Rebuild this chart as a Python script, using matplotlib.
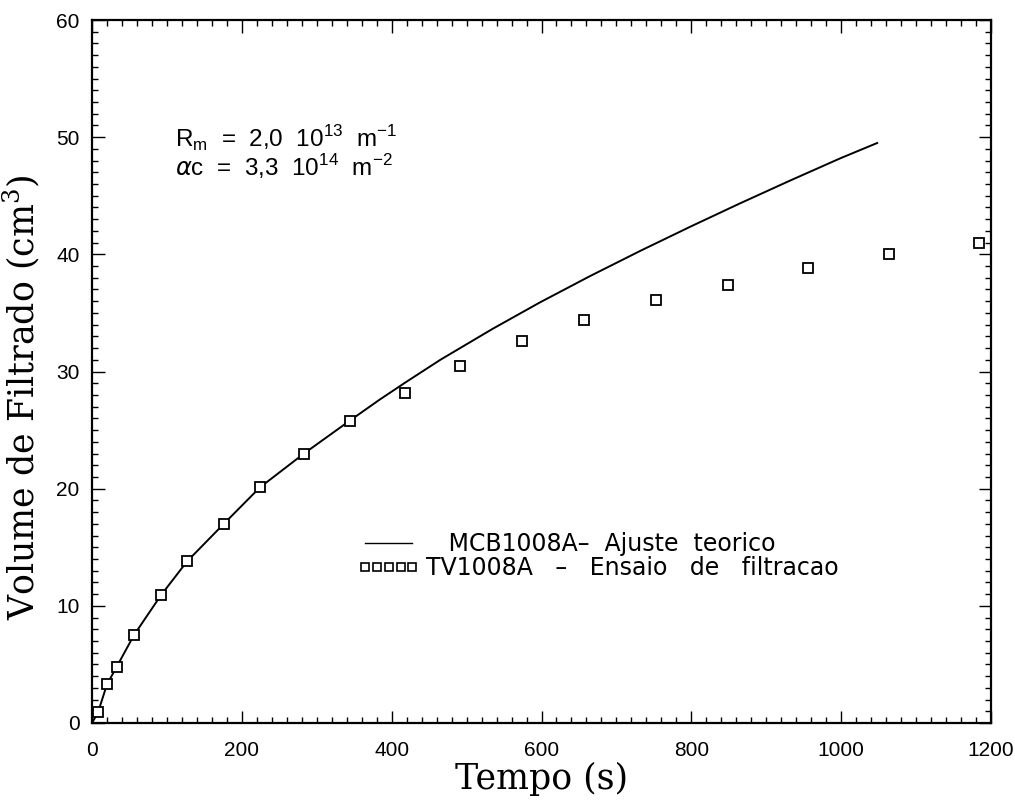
import matplotlib
matplotlib.use("Agg")
import matplotlib.pyplot as plt
from matplotlib.lines import Line2D
from matplotlib.ticker import MultipleLocator

# Experimental data (TV1008A - Ensaio de filtracao)
t_exp = [8, 20, 33, 56, 92, 127, 176, 224, 283, 344, 418, 491, 574, 657, 753, 849, 956, 1064, 1184]
v_exp = [0.9, 3.3, 4.8, 7.5, 10.9, 13.8, 17.0, 20.1, 23.0, 25.8, 28.2, 30.5, 32.6, 34.4, 36.1, 37.4, 38.8, 40.0, 41.0]

# Theoretical fit curve (MCB1008A - Ajuste teorico)
t_fit = [0, 8, 20, 33, 56, 92, 127, 176, 224, 283, 344, 384, 418, 465, 535, 598, 665, 732, 800, 865, 932, 999, 1048]
v_fit = [0, 0.9, 3.3, 4.8, 7.5, 10.9, 13.8, 17.0, 20.1, 23.0, 25.8, 27.6, 29.05, 31.0, 33.65, 35.9, 38.15, 40.3, 42.4, 44.35, 46.3, 48.2, 49.5]

x_ticks = [0, 200, 400, 600, 800, 1000, 1200]
y_ticks = [0, 10, 20, 30, 40, 50, 60]

fig = plt.figure(figsize=(10.15, 8.09), dpi=100)
ax = fig.add_axes([92/1015, 1 - 723/809, (991 - 92)/1015, (723 - 20)/809])

ax.plot(t_fit, v_fit, color="black", lw=1.4)
ax.plot(t_exp, v_exp, linestyle="none", marker="s", markersize=7,
        markerfacecolor="white", markeredgecolor="black", markeredgewidth=1.3)

ax.set_xlim(0, 1200)
ax.set_ylim(0, 60)
ax.set_xticks(x_ticks)
ax.set_yticks(y_ticks)
ax.xaxis.set_minor_locator(MultipleLocator(20))
ax.yaxis.set_minor_locator(MultipleLocator(1))
ax.tick_params(which="both", direction="in", top=True, right=True, width=1.0)
ax.tick_params(which="major", length=9)
ax.tick_params(which="minor", length=4)
ax.tick_params(axis="x", which="major", pad=13)
ax.tick_params(axis="y", which="major", pad=9)
for lab in ax.get_xticklabels() + ax.get_yticklabels():
    lab.set_fontfamily("Liberation Sans")
    lab.set_fontsize(15)
for s in ax.spines.values():
    s.set_linewidth(1.6)

ax.set_xlabel("Tempo (s)", fontfamily="DejaVu Serif", fontsize=25, labelpad=1)
ax.set_ylabel("Volume de Filtrado (cm$^\\mathregular{3}$)", fontfamily="DejaVu Serif", fontsize=25)
ax.yaxis.set_label_coords(-0.056, (723 - 397) / 703)

ax.text(0.092, (723 - 139) / 703,
        r"R$_\mathregular{m}$  =  2,0  10$^{\mathregular{13}}$  m$^{\mathregular{-1}}$",
        transform=ax.transAxes, fontsize=17.5, fontfamily="Liberation Sans", va="center")
ax.text(0.092, (723 - 167) / 703,
        r"$\alpha$c  =  3,3  10$^{\mathregular{14}}$  m$^{\mathregular{-2}}$",
        transform=ax.transAxes, fontsize=17.5, fontfamily="Liberation Sans", va="center")

h_line = Line2D([], [], color="black", lw=1.0)
h_mark = Line2D([], [], linestyle="none", marker="s", markersize=6,
                markerfacecolor="white", markeredgecolor="black", markeredgewidth=1.2)
ax.legend([h_line, h_mark],
          ["   MCB1008A\u2013  Ajuste  teorico", "TV1008A   \u2013   Ensaio   de   filtracao"],
          loc="center left", bbox_to_anchor=((358 - 92) / 899, (723 - 556) / 703),
          frameon=False, numpoints=5, handlelength=2.6, handletextpad=0.3,
          labelspacing=0.0, borderaxespad=0, borderpad=0,
          prop={"family": "DejaVu Sans", "size": 17})

fig.savefig("out.png", dpi=100, facecolor="white")
